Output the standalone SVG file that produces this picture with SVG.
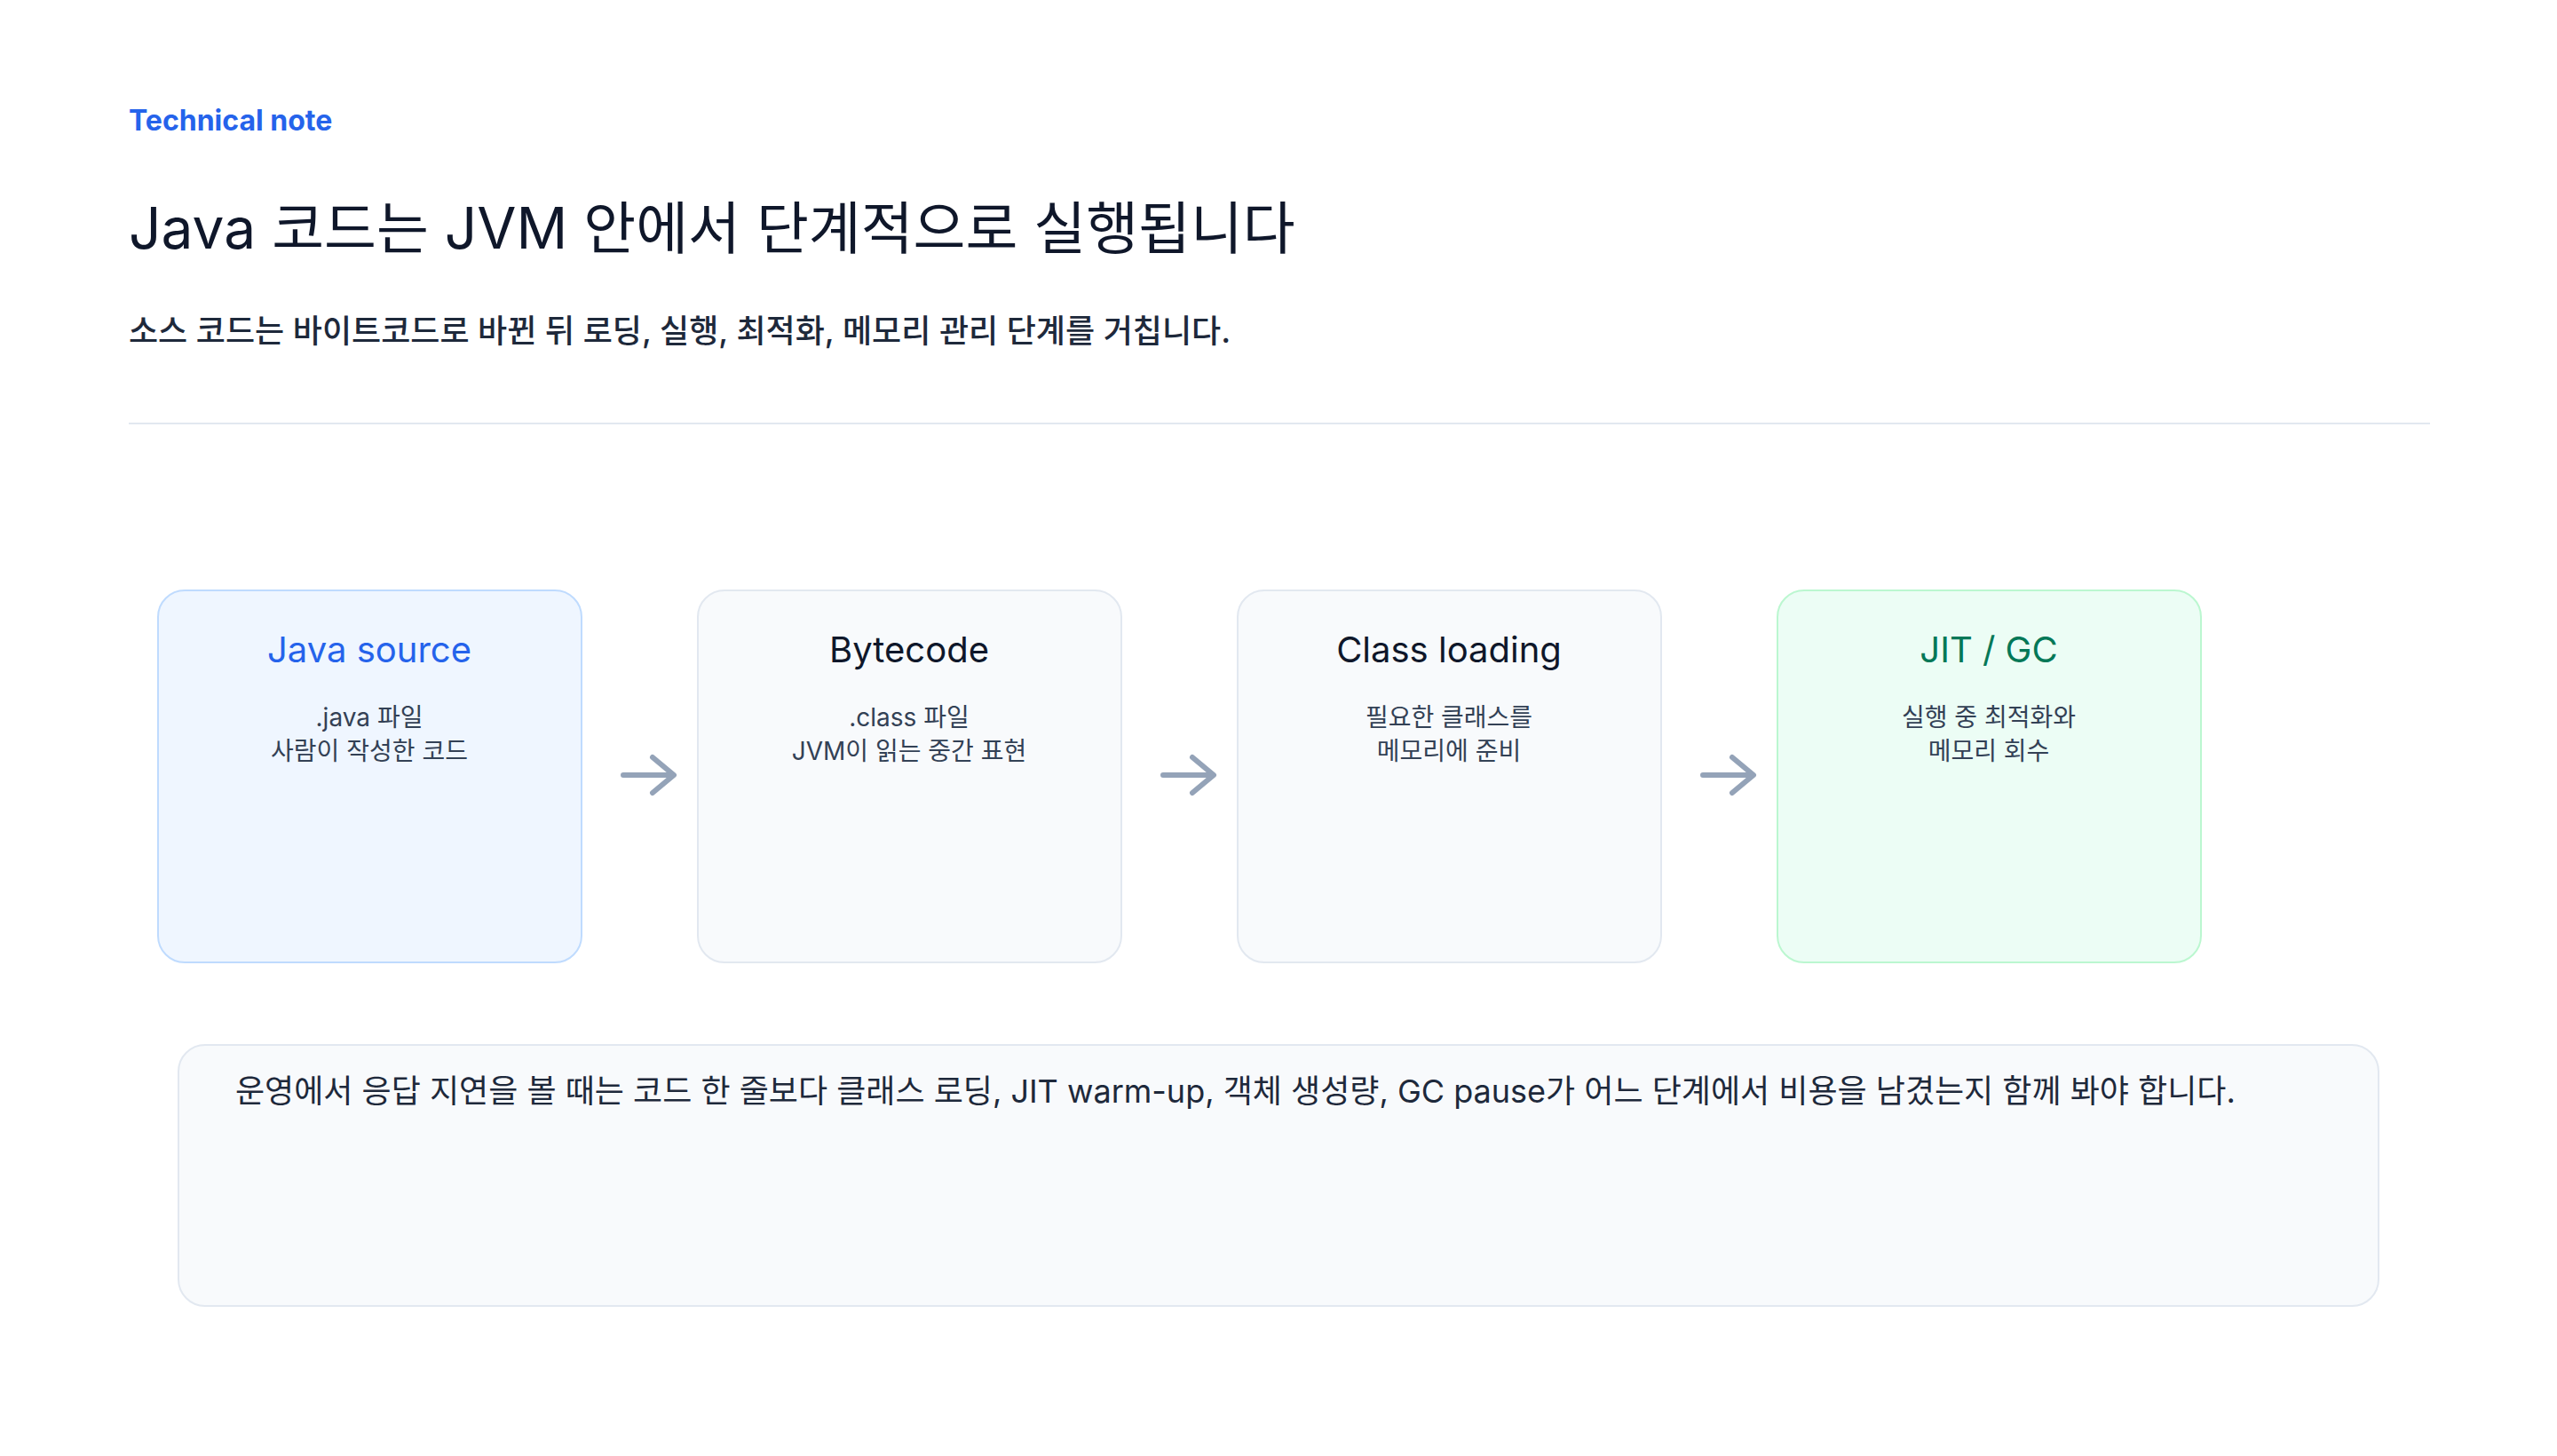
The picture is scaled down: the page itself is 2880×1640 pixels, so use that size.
<svg xmlns="http://www.w3.org/2000/svg" width="2880" height="1640" viewBox="0 0 2880 1640">
<defs>
<style>
text{font-family:Inter,"Noto Sans CJK KR","Noto Sans",sans-serif}
.eyebrow{font-size:32px;font-weight:700;fill:#2563eb}
.title{font-size:64px;font-weight:400;fill:#0f172a}
.sub{font-size:36px;font-weight:500;fill:#1e293b}
.box{stroke-width:2}
.neutral{fill:#f8fafc;stroke:#e2e8f0}
.blue{fill:#eff6ff;stroke:#bfdbfe}
.green{fill:#ecfdf5;stroke:#bbf7d0}
.ntitle{font-size:40px;font-weight:400;text-anchor:middle;fill:#0f172a}
.ndesc{font-size:28px;font-weight:400;text-anchor:middle;fill:#334155}
.conn{fill:none;stroke:#94a3b8;stroke-width:6;stroke-linecap:round;stroke-linejoin:round}
.note{font-size:36px;font-weight:400;fill:#1e293b}
</style>
</defs>
<rect width="2880" height="1640" fill="#ffffff"/>
<g id="header">
<text class="eyebrow" x="145" y="147">Technical note</text>
<text class="title" x="145" y="280">Java 코드는 JVM 안에서 단계적으로 실행됩니다</text>
<text class="sub" x="145" y="386">소스 코드는 바이트코드로 바뀐 뒤 로딩, 실행, 최적화, 메모리 관리 단계를 거칩니다.</text>
<line x1="145" y1="477" x2="2737" y2="477" stroke="#e2e8f0" stroke-width="2"/>
</g>
<g id="node-java-source">
<rect class="box blue" x="178" y="665" width="477" height="419" rx="30"/>
<text class="ntitle" x="416" y="746" style="fill:#2563eb">Java source</text>
<text class="ndesc" x="416" y="818">.java 파일</text>
<text class="ndesc" x="416" y="856">사람이 작성한 코드</text>
</g>
<g id="node-bytecode">
<rect class="box neutral" x="786" y="665" width="477" height="419" rx="30"/>
<text class="ntitle" x="1024" y="746">Bytecode</text>
<text class="ndesc" x="1024" y="818">.class 파일</text>
<text class="ndesc" x="1024" y="856">JVM이 읽는 중간 표현</text>
</g>
<g id="node-class-loading">
<rect class="box neutral" x="1394" y="665" width="477" height="419" rx="30"/>
<text class="ntitle" x="1632" y="746">Class loading</text>
<text class="ndesc" x="1632" y="818">필요한 클래스를</text>
<text class="ndesc" x="1632" y="856">메모리에 준비</text>
</g>
<g id="node-jit-gc">
<rect class="box green" x="2002" y="665" width="477" height="419" rx="30"/>
<text class="ntitle" x="2240" y="746" style="fill:#047857">JIT / GC</text>
<text class="ndesc" x="2240" y="818">실행 중 최적화와</text>
<text class="ndesc" x="2240" y="856">메모리 회수</text>
</g>
<g id="connectors">
<path class="conn" d="M702 873H758M735 853L759 873L735 893"/>
<path class="conn" d="M1310 873H1366M1343 853L1367 873L1343 893"/>
<path class="conn" d="M1918 873H1974M1951 853L1975 873L1951 893"/>
</g>
<g id="note">
<rect class="box neutral" x="201" y="1177" width="2478" height="294" rx="30"/>
<text class="note" x="265" y="1242">운영에서 응답 지연을 볼 때는 코드 한 줄보다 클래스 로딩, JIT warm-up, 객체 생성량, GC pause가 어느 단계에서 비용을 남겼는지 함께 봐야 합니다.</text>
</g>
</svg>
